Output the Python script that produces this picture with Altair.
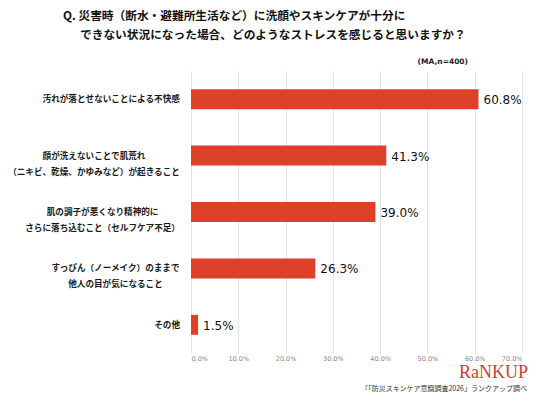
import altair as alt
import pandas as pd

categories = [
    "汚れが落とせないことによる不快感",
    "顔が洗えないことで肌荒れ\n（ニキビ、乾燥、かゆみなど）が起きること",
    "肌の調子が悪くなり精神的に\nさらに落ち込むこと（セルフケア不足）",
    "すっぴん（ノーメイク）のままで\n他人の目が気になること",
    "その他",
]
values = [60.8, 41.3, 39.0, 26.3, 1.5]
x_ticks = [0, 10, 20, 30, 40, 50, 60, 70]

title_line1 = "Q. 災害時（断水・避難所生活など）に洗顔やスキンケアが十分に"
title_line2 = "できない状況になった場合、どのようなストレスを感じると思いますか？"
note_text = "(MA,n=400)"
logo_text = "RaNKUP"
source_text = "『「防災スキンケア意識調査2026」ランクアップ調べ"

df = pd.DataFrame({"category": categories, "value": values})
# longest line of each label (in full-width characters), used to centre the block
df["maxlen"] = [max(len(s) for s in c.split("\n")) for c in categories]

RED = "#DE4129"
JP = "Noto Sans CJK JP"
LABEL_FS = 8.6

y_scale = alt.Scale(paddingInner=0.646, paddingOuter=0.323)

x_enc = alt.X(
    "value:Q",
    scale=alt.Scale(domain=[0, 70], nice=False),
    axis=alt.Axis(
        title=None,
        values=x_ticks,
        ticks=False,
        domain=False,
        grid=True,
        gridColor="#e4e4e4",
        gridWidth=1,
        labelExpr="format(datum.value, '.1f') + '%'",
        labelFont="DejaVu Sans",
        labelFontSize=6.5,
        labelColor="#888888",
        labelPadding=2,
    ),
)

bars = alt.Chart(df).mark_bar(color=RED).encode(
    x=x_enc,
    y=alt.Y("category:N", sort=None, scale=y_scale, axis=None),
)

values_text = (
    alt.Chart(df)
    .transform_calculate(label="format(datum.value, '.1f') + '%'")
    .mark_text(align="left", baseline="middle", dx=5, dy=1,
               font="DejaVu Sans", fontSize=12, color="#111111")
    .encode(x="value:Q", y=alt.Y("category:N", sort=None), text="label:N")
)

cat_text = (
    alt.Chart(df)
    .transform_calculate(px=f"-11 - datum.maxlen * {LABEL_FS} / 2")
    .mark_text(align="center", baseline="middle", lineBreak="\n", lineHeight=16,
               font=JP, fontWeight="bold", fontSize=LABEL_FS, color="#1a1a1a")
    .encode(
        x=alt.X("px:Q", scale=None),
        y=alt.Y("category:N", sort=None),
        text="category:N",
    )
)

one = alt.Data(values=[{}])

t1 = alt.Chart(one).mark_text(
    text=title_line1, align="left", baseline="middle", font=JP,
    fontWeight="bold", fontSize=11.7, color="#111111"
).encode(x=alt.value(-128), y=alt.value(-55))

t2 = alt.Chart(one).mark_text(
    text=title_line2, align="left", baseline="middle", font=JP,
    fontWeight="bold", fontSize=11.7, color="#111111"
).encode(x=alt.value(-111), y=alt.value(-36))

note = alt.Chart(one).mark_text(
    text=note_text, align="right", baseline="middle", font="DejaVu Sans",
    fontWeight="bold", fontSize=7.5, color="#222222"
).encode(x=alt.value(277), y=alt.value(-9))

logo = alt.Chart(one).mark_text(
    text=logo_text, align="right", baseline="alphabetic", font="Liberation Serif",
    fontSize=18, color="#D0402A"
).encode(x=alt.value(337), y=alt.value(307))

source = alt.Chart(one).mark_text(
    text=source_text, align="right", baseline="middle", font=JP,
    fontSize=7, color="#333333"
).encode(x=alt.value(336), y=alt.value(318))

chart = (
    alt.layer(bars, values_text, cat_text, t1, t2, note, logo, source)
    .properties(
        width=331,
        height=282,
        autosize=alt.AutoSizeParams(type="none"),
        padding={"left": 183, "top": 63, "right": 6, "bottom": 41},
        background="white",
    )
    .configure_view(stroke=None)
)

chart.save("out.html", embed_options={"renderer": "svg", "actions": False})
